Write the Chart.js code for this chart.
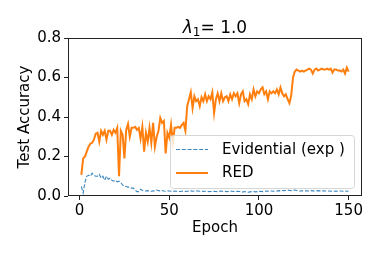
<!DOCTYPE html>
<html>
<head>
<meta charset="utf-8">
<script src="https://cdn.jsdelivr.net/npm/chart.js@4.4.0/dist/chart.umd.min.js"></script>
<style>
html,body{margin:0;padding:0;background:#fff;}
#wrap{width:382px;height:255px;position:relative;}
</style>
</head>
<body>
<div id="wrap"><canvas id="c" width="382" height="255"></canvas></div>
<script>
const epochs = [1,2,3,4,5,6,7,8,9,10,11,12,13,14,15,16,17,18,19,20,21,22,23,24,25,26,27,28,29,30,
31,32,33,34,35,36,37,38,39,40,41,42,43,44,45,46,47,48,49,50,51,52,53,54,55,56,57,58,59,60,
61,62,63,64,65,66,67,68,69,70,71,72,73,74,75,76,77,78,79,80,81,82,83,84,85,86,87,88,89,90,
91,92,93,94,95,96,97,98,99,100,101,102,103,104,105,106,107,108,109,110,111,112,113,114,115,116,117,118,119,120,
121,122,123,124,125,126,127,128,129,130,131,132,133,134,135,136,137,138,139,140,141,142,143,144,145,146,147,148,149,150];

const redAcc = [0.107,0.19,0.20,0.225,0.25,0.265,0.27,0.285,0.315,0.32,
0.275,0.33,0.31,0.33,0.285,0.33,0.33,0.31,0.335,0.32,
0.345,0.10,0.33,0.31,0.19,0.335,0.365,0.30,0.345,0.345,
0.35,0.335,0.345,0.29,0.35,0.225,0.32,0.275,0.345,0.27,
0.37,0.25,0.30,0.33,0.395,0.37,0.38,0.215,0.32,0.295,
0.36,0.27,0.345,0.345,0.35,0.345,0.36,0.37,0.33,0.455,
0.49,0.525,0.445,0.505,0.48,0.49,0.455,0.50,0.48,0.515,
0.48,0.505,0.49,0.525,0.42,0.49,0.52,0.48,0.52,0.48,
0.50,0.505,0.48,0.515,0.49,0.52,0.505,0.52,0.47,0.515,
0.53,0.48,0.49,0.465,0.515,0.49,0.54,0.505,0.53,0.52,
0.54,0.55,0.515,0.53,0.49,0.53,0.52,0.53,0.52,0.54,
0.515,0.55,0.52,0.505,0.515,0.49,0.47,0.51,0.60,0.63,
0.64,0.635,0.63,0.635,0.63,0.635,0.64,0.645,0.64,0.62,
0.64,0.645,0.635,0.64,0.645,0.64,0.64,0.645,0.64,0.645,
0.625,0.64,0.64,0.635,0.635,0.63,0.64,0.62,0.65,0.63];

const evidentialAcc = [0.048,0.015,0.07,0.10,0.105,0.10,0.115,0.105,0.10,0.10,
0.11,0.09,0.10,0.08,0.10,0.085,0.09,0.08,0.075,0.08,
0.072,0.075,0.068,0.055,0.052,0.048,0.045,0.045,0.04,0.04,
0.03,0.022,0.022,0.034,0.028,0.026,0.025,0.027,0.025,0.024,
0.026,0.025,0.03,0.027,0.026,0.028,0.025,0.024,0.026,0.025,
0.024,0.023,0.025,0.024,0.022,0.023,0.024,0.025,0.023,0.024,
0.025,0.026,0.024,0.025,0.026,0.025,0.024,0.025,0.023,0.024,
0.025,0.022,0.023,0.022,0.024,0.023,0.022,0.024,0.025,0.023,
0.024,0.022,0.023,0.025,0.024,0.023,0.022,0.024,0.023,0.022,
0.02,0.022,0.021,0.019,0.021,0.022,0.023,0.021,0.022,0.023,
0.024,0.022,0.023,0.025,0.024,0.026,0.025,0.024,0.026,0.025,
0.027,0.026,0.028,0.027,0.029,0.03,0.028,0.027,0.029,0.03,
0.028,0.026,0.025,0.026,0.027,0.026,0.025,0.026,0.027,0.026,
0.025,0.026,0.027,0.026,0.025,0.026,0.025,0.026,0.025,0.024,
0.025,0.024,0.025,0.024,0.025,0.025,0.024,0.025,0.024,0.025];

const xTicks = [0, 50, 100, 150];
const yTicks = [0.0, 0.2, 0.4, 0.6, 0.8];
const seriesNames = ['Evidential (exp )', 'RED'];
const titleParts = ['λ', '1', '= 1.0'];
const xLabel = 'Epoch';
const yLabel = 'Test Accuracy';

const FONT = "'DejaVu Sans', sans-serif";
const BLUE = '#3a86c0', ORANGE = '#ff7f0e';

const framePlugin = {
  id: 'frame',
  afterDatasetsDraw(chart) {
    const {ctx, chartArea: a} = chart;
    // legend
    const lx = 170.5, ly = 135.5, lw = 184, lh = 53, r = 3;
    ctx.save();
    ctx.beginPath();
    ctx.moveTo(lx + r, ly);
    ctx.arcTo(lx + lw, ly, lx + lw, ly + lh, r);
    ctx.arcTo(lx + lw, ly + lh, lx, ly + lh, r);
    ctx.arcTo(lx, ly + lh, lx, ly, r);
    ctx.arcTo(lx, ly, lx + lw, ly, r);
    ctx.closePath();
    ctx.fillStyle = 'rgba(255,255,255,0.8)';
    ctx.fill();
    ctx.strokeStyle = '#d6d6d6';
    ctx.lineWidth = 1;
    ctx.stroke();
    const ds = chart.data.datasets;
    const rows = [149.5, 173];
    ds.forEach((d, i) => {
      ctx.beginPath();
      ctx.strokeStyle = d.borderColor;
      ctx.lineWidth = d.borderWidth;
      ctx.setLineDash(d.borderDash || []);
      ctx.moveTo(176, rows[i]);
      ctx.lineTo(208, rows[i]);
      ctx.stroke();
      ctx.setLineDash([]);
      ctx.fillStyle = '#000';
      ctx.font = '15px ' + FONT;
      ctx.textBaseline = 'middle';
      ctx.textAlign = 'left';
      ctx.fillText(d.label, 222, rows[i] + 0.5);
    });
    // spines
    ctx.strokeStyle = '#222';
    ctx.lineWidth = 1;
    ctx.strokeRect(Math.round(a.left) + 0.5, Math.round(a.top) + 0.5,
      Math.round(a.right - a.left) - 1, Math.round(a.bottom - a.top) - 1);
    // title
    const cx = (a.left + a.right) / 2;
    const mainF = '17px ' + FONT, subF = '12px ' + FONT, itF = 'italic 17px ' + FONT;
    ctx.font = itF; const w0 = ctx.measureText(titleParts[0]).width;
    ctx.font = subF; const w1 = ctx.measureText(titleParts[1]).width;
    ctx.font = mainF; const w2 = ctx.measureText(titleParts[2]).width;
    let x = cx - (w0 + w1 + w2) / 2;
    const base = 33;
    ctx.fillStyle = '#000';
    ctx.textAlign = 'left';
    ctx.textBaseline = 'alphabetic';
    ctx.font = itF; ctx.fillText(titleParts[0], x, base); x += w0;
    ctx.font = subF; ctx.fillText(titleParts[1], x, base + 3); x += w1;
    ctx.font = mainF; ctx.fillText(titleParts[2], x, base);
    ctx.restore();
  }
};

new Chart(document.getElementById('c'), {
  type: 'line',
  data: {
    datasets: [
      {
        label: seriesNames[0],
        data: epochs.map((e, i) => ({x: e, y: evidentialAcc[i]})),
        borderColor: BLUE, borderWidth: 1.1, borderDash: [4, 1.8],
        pointRadius: 0, tension: 0, fill: false
      },
      {
        label: seriesNames[1],
        data: epochs.map((e, i) => ({x: e, y: redAcc[i]})),
        borderColor: ORANGE, borderWidth: 2,
        pointRadius: 0, tension: 0, fill: false
      }
    ]
  },
  options: {
    responsive: false,
    animation: false,
    devicePixelRatio: 1,
    layout: {padding: {top: 38, right: 20, left: 0, bottom: 0}},
    plugins: {legend: {display: false}, title: {display: false}, tooltip: {enabled: false}},
    scales: {
      x: {
        type: 'linear', min: -6.45, max: 157.45,
        afterBuildTicks: s => { s.ticks = xTicks.map(v => ({value: v})); },
        afterFit: s => { s.height = 59; },
        grid: {drawOnChartArea: false, drawTicks: true, tickLength: 4, color: '#222'},
        border: {display: false},
        ticks: {font: {family: FONT, size: 15}, color: '#000', padding: 2, maxRotation: 0},
        title: {display: true, text: xLabel, font: {family: FONT, size: 15}, color: '#000', padding: {top: 0, bottom: 18}}
      },
      y: {
        type: 'linear', min: 0, max: 0.8,
        afterBuildTicks: s => { s.ticks = yTicks.map(v => ({value: v})); },
        afterFit: s => { s.width = 68; },
        grid: {drawOnChartArea: false, drawTicks: true, tickLength: 4, color: '#222'},
        border: {display: false},
        ticks: {font: {family: FONT, size: 15}, color: '#000', padding: 3, callback: v => Number(v).toFixed(1)},
        title: {display: true, text: yLabel, font: {family: FONT, size: 15}, color: '#000', padding: {top: 16, bottom: 0}}
      }
    }
  },
  plugins: [framePlugin]
});
</script>
</body>
</html>
